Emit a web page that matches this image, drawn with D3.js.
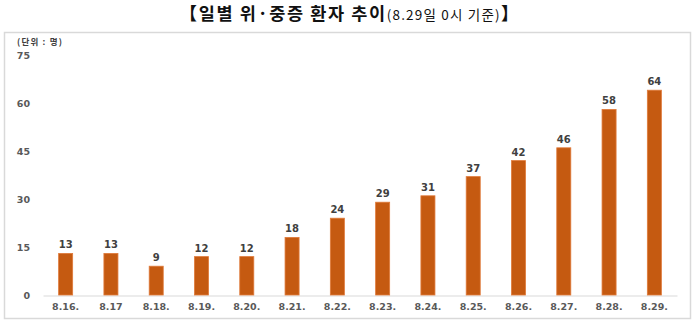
<!DOCTYPE html>
<html><head><meta charset="utf-8">
<script src="https://cdn.jsdelivr.net/npm/d3@7"></script>
<style>body{margin:0;background:#fff;font-family:"Noto Sans CJK KR","Noto Sans",sans-serif;}</style>
</head><body>
<svg id="c" width="698" height="326"></svg>
<script>
const categories = ["8.16.","8.17","8.18.","8.19.","8.20.","8.21.","8.22.","8.23.","8.24.","8.25.","8.26.","8.27.","8.28.","8.29."];
const values = [13,13,9,12,12,18,24,29,31,37,42,46,58,64];
const yTicks = [0,15,30,45,60,75];

const svg = d3.select("#c");
// frame
svg.append("rect").attr("x",4.5).attr("y",32.5).attr("width",686).attr("height",286)
  .attr("fill","#fff").attr("stroke","#d9d9d9").attr("stroke-width",1.5);

// title
const t = svg.append("text").attr("x",349).attr("y",20).attr("text-anchor","middle")
  .attr("fill","#111").style("font-family","'Noto Sans CJK KR',sans-serif");
t.append("tspan").attr("font-size",17.5).attr("font-weight","bold").attr("letter-spacing",1.6).text("【일별 위·중증 환자 추이");
t.append("tspan").attr("font-size",13.5).attr("font-weight","normal").attr("letter-spacing",1.2).text("(8.29일 0시 기준)");
t.append("tspan").attr("font-size",17.5).attr("font-weight","bold").text("】");

svg.append("text").attr("x",17).attr("y",45).attr("font-size",8.5).attr("font-weight","bold")
  .attr("letter-spacing",1.2).attr("fill","#404040").text("(단위 : 명)");

const x = d3.scaleBand().domain(categories).range([43,677]).paddingInner(0.69).paddingOuter(0.345);
const y = d3.scaleLinear().domain([0,75]).range([295,55]);

// y axis labels
const ya = svg.append("g").attr("transform","translate(30,0)")
  .call(d3.axisLeft(y).tickValues(yTicks).tickSize(0).tickPadding(0));
ya.select(".domain").remove();
ya.selectAll("text").attr("font-size",9.5).attr("font-weight","bold").attr("fill","#595959")
  .style("font-family","'DejaVu Sans',sans-serif");

// baseline
const xa = svg.append("g").attr("transform","translate(0,295.5)")
  .call(d3.axisBottom(x).tickSize(0).tickPadding(8));
xa.select(".domain").attr("stroke","#d9d9d9").attr("stroke-width",1);
xa.selectAll("text").attr("font-size",9.5).attr("font-weight","bold").attr("fill","#595959")
  .style("font-family","'DejaVu Sans',sans-serif");

// bars
svg.append("g").selectAll("rect").data(values).join("rect")
  .attr("x",(d,i)=>x(categories[i])).attr("width",x.bandwidth())
  .attr("y",d=>y(d)).attr("height",d=>y(0)-y(d))
  .attr("fill","#C55A11").attr("stroke","#e07a3a").attr("stroke-width",0.8);

// value labels
svg.append("g").selectAll("text").data(values).join("text")
  .attr("x",(d,i)=>x(categories[i])+x.bandwidth()/2).attr("y",d=>y(d)-5)
  .attr("text-anchor","middle").attr("font-size",10).attr("font-weight","bold")
  .attr("fill","#404040").style("font-family","'DejaVu Sans',sans-serif").text(d=>d);
</script>
</body></html>
